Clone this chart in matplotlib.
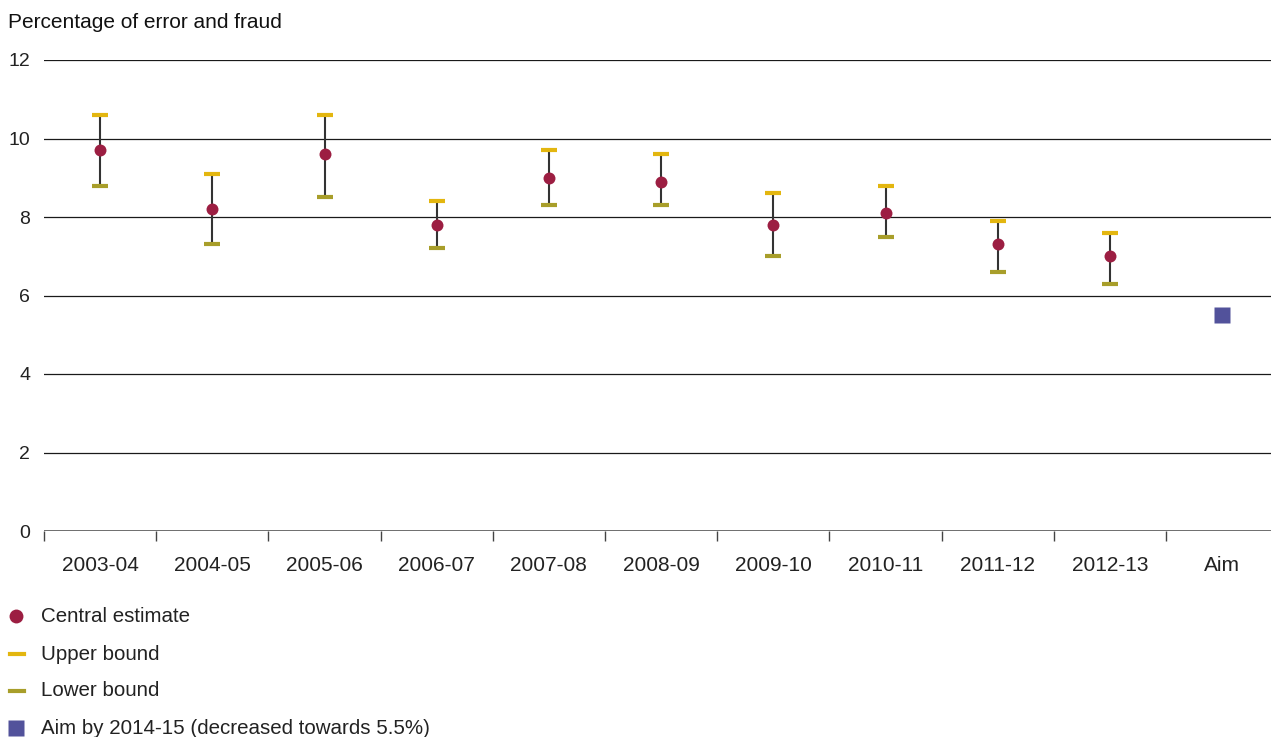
import matplotlib
matplotlib.use("Agg")
import matplotlib.pyplot as plt
from matplotlib.lines import Line2D

plt.rcParams['font.family'] = ['Liberation Sans', 'DejaVu Sans']

years = ["2003-04", "2004-05", "2005-06", "2006-07", "2007-08", "2008-09",
         "2009-10", "2010-11", "2011-12", "2012-13"]
tick_labels = years + ["Aim"]
central = [9.7, 8.2, 9.6, 7.8, 9.0, 8.9, 7.8, 8.1, 7.3, 7.0]
upper = [10.6, 9.1, 10.6, 8.4, 9.7, 9.6, 8.6, 8.8, 7.9, 7.6]
lower = [8.8, 7.3, 8.5, 7.2, 8.3, 8.3, 7.0, 7.5, 6.6, 6.3]
aim_value = 5.5

c_central = "#9c1e42"
c_upper = "#e3b60f"
c_lower = "#a89e2a"
c_aim = "#52529b"
c_whisker = "#333333"
c_text = "#222222"

W, H = 1271, 737
fig = plt.figure(figsize=(W / 100, H / 100), dpi=100)
left_px, right_px, bottom_px, top_px = 44, 1271, 531, 60
ax = fig.add_axes([left_px / W, 1 - bottom_px / H,
                   (right_px - left_px) / W, (bottom_px - top_px) / H])

slot = 112.2
ax.set_xlim(-0.5, -0.5 + (right_px - left_px) / slot)
ax.set_ylim(0, 12)

# horizontal gridlines
for yv in [2, 4, 6, 8, 10, 12]:
    ax.axhline(yv, color="#1a1a1a", lw=0.9, zorder=1)
ax.axhline(0, color="#555555", lw=1.2, zorder=1)

x = list(range(len(years)))
ax.vlines(x, lower, upper, color=c_whisker, lw=1.5, zorder=2)
ax.plot(x, upper, ls="none", marker="_", ms=11.8, mew=3.0, color=c_upper, zorder=3)
ax.plot(x, lower, ls="none", marker="_", ms=11.8, mew=3.0, color=c_lower, zorder=3)
ax.plot(x, central, ls="none", marker="o", ms=8.6, color=c_central, mec="none", zorder=4)
ax.plot([len(years)], [aim_value], ls="none", marker="s", ms=11.2, color=c_aim, mec="none", zorder=4)

for s in ax.spines.values():
    s.set_visible(False)

ax.set_yticks([0, 2, 4, 6, 8, 10, 12])
ax.set_yticklabels(["0", "2", "4", "6", "8", "10", "12"], fontsize=14, color=c_text)
ax.tick_params(axis="y", length=0, pad=10)

# category boundaries as ticks, labels centred under each category
ax.set_xticks([i - 0.5 for i in range(len(tick_labels))])
ax.set_xticklabels([])
ax.tick_params(axis="x", which="major", length=7, width=1, color="#444444", direction="out")
ax.set_xticks(range(len(tick_labels)), minor=True)
ax.set_xticklabels(tick_labels, minor=True, fontsize=15, color=c_text)
ax.tick_params(axis="x", which="minor", length=0, pad=18)

fig.text(8 / W, 1 - 23 / H, "Percentage of error and fraud", fontsize=15,
         color="#111111", va="center", ha="left")

# legend rows
legend_rows = [
    ("o", c_central, 10, "Central estimate", 616),
    ("-", c_upper, None, "Upper bound", 654),
    ("-", c_lower, None, "Lower bound", 691),
    ("s", c_aim, 11, "Aim by 2014-15 (decreased towards 5.5%)", 728),
]
for kind, color, ms, label, ypx in legend_rows:
    yf = 1 - ypx / H
    if kind in ("o", "s"):
        fig.lines.append(Line2D([16 / W], [yf], transform=fig.transFigure,
                                ls="none", marker=kind, ms=ms, color=color, mec="none"))
    else:
        fig.lines.append(Line2D([10 / W, 24 / W], [yf, yf], transform=fig.transFigure,
                                color=color, lw=3))
    fig.text(41 / W, yf, label, fontsize=14.8, color=c_text, va="center", ha="left")

fig.savefig("out.png", dpi=100)
